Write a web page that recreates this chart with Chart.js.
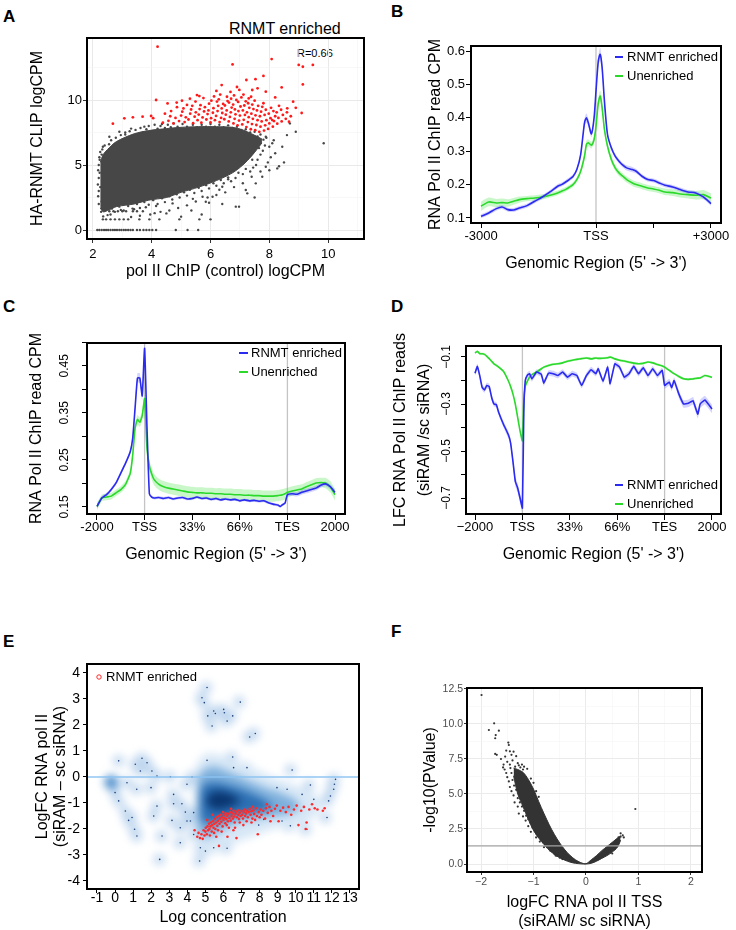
<!DOCTYPE html>
<html>
<head>
<meta charset="utf-8">
<title>RNMT enriched genes and RNA pol II ChIP</title>
<script src="https://cdn.jsdelivr.net/npm/chart.js@4.4.1/dist/chart.umd.min.js"></script>
<style>
  html, body { margin: 0; padding: 0; background: #fff; }
  body { position: relative; width: 736px; height: 930px; overflow: hidden; font-family: "Liberation Sans", Arial, sans-serif; color: #000; }
  canvas { position: absolute; }
  .tag { position: absolute; font-weight: bold; font-size: 17px; line-height: 17px; }
  .note { position: absolute; white-space: nowrap; }
</style>
</head>
<body>
<div class="tag" style="left:3px;top:8px">A</div>
<div class="tag" style="left:391px;top:3px">B</div>
<div class="tag" style="left:3px;top:298px">C</div>
<div class="tag" style="left:391px;top:298px">D</div>
<div class="tag" style="left:3px;top:633px">E</div>
<div class="tag" style="left:391px;top:623px">F</div>
<div class="note" style="left:229px;top:21px;font-size:16px;line-height:16px">RNMT enriched</div>
<div class="note" style="left:297px;top:48px;font-size:11px;line-height:11px">R=0.66</div>
<script>
// ---------- panel A : CLIP logCPM vs pol II ChIP logCPM ----------
// dense grey cloud, given as upper / lower edge along x
const aCloudX  = [2.25, 2.35, 2.5, 2.8, 3.4, 3.9, 4.5, 5.0, 5.6, 6.2, 6.75, 7.1, 7.4, 7.75];
const aCloudHi = [5.2, 5.8, 6.2, 6.8, 7.4, 7.65, 7.8, 7.9, 7.95, 7.95, 7.9, 7.7, 7.4, 7.0];
const aCloudLo = [1.7, 1.4, 1.5, 1.8, 2.0, 2.3, 2.5, 2.9, 3.3, 3.8, 4.4, 5.0, 5.7, 6.7];
const aGrey = [
  [2.15,0],[2.22,0],[2.3,0],[2.38,0],[2.45,0],[2.52,0],[2.6,0],[2.68,0],[2.75,0],[2.82,0],[2.9,0],[2.97,0],
  [3.05,0],[3.12,0],[3.2,0],[3.28,0],[3.36,0],[3.5,0],[3.6,0],[3.72,0],[3.82,0],[3.92,0],[4.02,0],[4.15,0],
  [4.82,0],[5.22,0],[5.58,0],
  [2.34,0.82],[2.45,0.82],[2.6,0.82],[2.75,0.82],[2.9,0.82],[3.05,0.82],[3.2,0.82],[3.58,0.82],[3.92,0.82],
  [4.26,0.82],[4.94,0.82],[5.62,0.82],[6.0,0.82],
  [2.56,1.44],[2.7,1.44],[2.85,1.44],[3.0,1.44],[3.13,1.44],[3.36,1.44],[3.5,1.44],[3.7,1.44],[4.1,1.3],[4.5,1.28],
  [5.0,1.03],[5.35,1.5],[5.84,2.18],[5.95,2.1],[6.86,1.8],[6.97,1.8],[6.07,2.56],[6.4,3.33],[7.2,3.08],[7.25,2.82],
  [7.54,3.59],[7.76,4.1],[7.88,4.87],[8.27,4.74],[8.33,4.9],[8.44,6.41],[8.1,6.67],[8.15,6.9],[8.9,7.56],[9.85,6.67],
  [7.88,7.18],[8.0,6.4],[7.65,6.3],[7.42,5.4],[6.75,4.6],[6.6,3.9],[6.3,3.1],[5.73,2.56],[5.4,2.4],[4.71,2.05],
  [4.15,1.85],[3.8,1.75],[3.4,1.6],[2.95,1.55],[2.6,1.2],[2.3,2.2],[2.25,3.3],[2.23,4.4],[2.23,5.4],[2.34,6.4],
  [2.56,7.18],[2.9,7.56],[3.3,7.8],[3.1,7.5],[3.75,7.95],[4.3,8.0],[7.3,6.6],[7.0,5.3],[6.5,4.2],[8.6,7.3],[8.7,8.2],
  // speckled rim of the cloud
  [2.3,5.8],[2.32,6.2],[2.4,6.5],[2.48,6.0],[2.55,6.6],[2.62,6.9],[2.7,6.4],[2.78,7.1],[2.85,6.7],[2.95,7.3],
  [3.02,6.95],[3.1,7.35],[3.18,7.05],[3.25,7.6],[3.35,7.2],[3.45,7.7],[3.55,7.35],[3.62,7.85],[3.7,7.5],[3.82,7.75],
  [3.9,8.0],[4.0,7.6],[4.1,8.1],[4.2,7.8],[4.35,8.15],[4.45,7.85],[4.55,8.1],[4.65,7.9],[4.75,8.2],[4.88,7.95],
  [5.05,8.15],[5.2,7.95],[5.4,8.1],[5.55,7.9],[5.7,8.1],[5.85,7.95],[6.0,8.15],[6.15,7.95],[6.3,8.1],[6.45,7.9],
  [6.6,8.05],[6.75,7.85],[6.9,7.95],[7.05,7.7],[7.2,7.75],[7.35,7.5],[7.5,7.55],[7.6,7.2],[7.7,7.35],[7.8,6.95],
  [7.9,7.1],[7.85,6.5],[7.78,6.1],[7.7,5.8],[7.6,5.4],[7.55,5.0],[7.45,4.8],[7.35,4.5],[7.2,4.7],[7.1,4.3],
  [6.95,4.4],[6.85,4.0],[6.7,3.75],[6.6,4.05],[6.45,3.6],[6.35,3.85],[6.2,3.4],[6.1,3.6],[5.95,3.2],[5.85,3.45],
  [5.7,3.0],[5.6,3.25],[5.45,2.85],[5.3,3.1],[5.2,2.65],[5.1,2.9],[4.95,2.5],[4.85,2.75],[4.7,2.35],[4.6,2.6],
  [4.45,2.15],[4.35,2.45],[4.2,2.0],[4.05,2.3],[3.9,1.95],[3.75,2.15],[3.6,1.7],[3.5,2.0],[3.35,1.65],[3.2,1.85],
  [3.05,1.5],[2.9,1.8],[2.75,1.4],[2.65,1.65],[2.5,1.15],[2.42,1.5],[2.35,1.05],[2.28,1.4],
  [2.2,2.0],[2.18,2.6],[2.2,3.0],[2.17,3.5],[2.2,4.0],[2.18,4.6],[2.2,5.0],[2.22,5.6],[2.25,6.0],
  [8.05,5.6],[8.2,5.9],[7.95,5.2],[7.7,4.5],[7.4,4.1],[7.1,3.6],[6.8,3.3],[6.5,2.9],[6.2,2.7],[5.9,2.5],
  [5.5,2.2],[5.2,1.9],[4.9,1.7],[4.6,1.5],[4.3,1.4],[3.95,1.2],[3.6,1.1],[3.3,1.0],[5.7,1.2],[6.4,2.0],
  [7.5,2.5],[8.5,5.2],[8.0,4.6]
];
const aRed = [
  [4.38,8.25],[4.45,8.95],[4.57,8.4],[4.63,8.75],[4.66,9.15],[4.74,8.2],[4.81,8.62],[4.86,9.45],[4.93,8.38],[5.0,8.8],
  [5.04,9.1],[5.08,9.35],[5.12,8.3],[5.16,8.67],[5.2,9.62],[5.25,8.5],[5.31,8.95],[5.34,9.27],[5.38,9.55],[5.41,8.22],
  [5.46,8.72],[5.5,9.05],[5.49,9.88],[5.56,8.45],[5.6,8.88],[5.63,9.3],[5.66,9.6],[5.69,8.25],[5.73,8.66],[5.78,9.12],
  [5.81,9.45],[5.76,10.15],[5.86,8.5],[5.9,8.92],[5.93,9.2],[5.95,9.72],[6.0,8.28],[6.02,8.6],[6.08,9.02],[6.1,9.37],
  [6.03,9.95],[6.12,10.28],[6.15,8.45],[6.19,8.78],[6.24,9.15],[6.26,9.55],[6.22,9.88],[6.28,10.05],[6.31,8.3],[6.36,8.62],
  [6.4,9.0],[6.38,9.35],[6.43,9.7],[6.33,10.42],[6.47,8.52],[6.52,8.87],[6.55,9.2],[6.49,9.58],[6.58,9.92],[6.56,10.25],
  [6.62,8.35],[6.66,8.7],[6.69,9.05],[6.72,9.42],[6.63,9.8],[6.7,10.1],[6.68,10.62],[6.78,8.2],[6.82,8.55],[6.85,8.9],
  [6.83,9.28],[6.77,9.65],[6.88,10.0],[6.8,10.35],[6.92,8.05],[6.97,8.42],[7.0,8.8],[6.95,9.15],[7.02,9.5],[6.94,9.85],
  [7.05,10.2],[6.98,10.78],[7.08,8.12],[7.13,8.48],[7.17,8.85],[7.1,9.2],[7.15,9.58],[7.2,9.9],[7.12,10.42],[7.22,7.92],
  [7.27,8.3],[7.3,8.68],[7.24,9.05],[7.32,9.4],[7.28,9.75],[7.3,10.12],[7.37,7.75],[7.41,8.15],[7.44,8.55],[7.39,8.95],
  [7.46,9.3],[7.42,9.65],[7.38,10.25],[7.52,7.68],[7.56,8.08],[7.6,8.45],[7.53,8.82],[7.58,9.2],[7.62,9.55],[7.5,9.95],
  [7.66,7.55],[7.7,7.95],[7.74,8.35],[7.68,8.75],[7.72,9.1],[7.76,9.48],[7.82,7.65],[7.86,8.05],[7.9,8.45],[7.84,8.85],
  [7.88,9.25],[7.8,9.75],[7.96,7.78],[8.0,8.2],[8.04,8.6],[7.98,8.95],[8.06,9.4],[8.12,7.95],[8.16,8.38],[8.2,8.75],
  [8.14,9.15],[8.27,8.18],[8.31,8.62],[8.25,9.05],[8.33,9.55],[8.42,8.35],[8.46,8.85],[8.4,9.25],[8.56,8.55],[8.6,9.05],
  [8.73,8.75],
  [4.2,14.1],[6.75,12.74],[8.08,13.15],[9.0,12.7],[9.14,12.56],[9.48,12.7],[9.14,11.2],[6.38,11.15],[7.22,11.54],
  [7.53,11.6],[7.8,11.85],[4.15,10.0],[4.54,9.74],[5.03,9.95],[5.54,10.38],[5.62,10.3],[2.68,8.18],[3.07,8.59],
  [3.36,8.67],[3.69,8.72],[3.98,8.77],[4.05,8.6],[8.81,9.87],[8.61,9.36],[8.42,10.97],[7.88,10.64],[7.42,10.77],
  [8.67,8.33],[8.1,8.46],[6.9,11.0],[6.2,10.7],[7.6,10.9],[8.2,10.2],[8.9,9.4],[9.1,9.0],[5.3,10.1],[4.85,9.8]
];
const aXTicks = [2, 3, 4, 5, 6, 7, 8, 9, 10, 11];
const aYTicks = [0, 2.5, 5, 7.5, 10, 12.5];

// ---------- panel B : profile around TSS ----------
const bPos = [-3000,-2800,-2600,-2450,-2300,-2150,-2000,-1800,-1600,-1400,-1200,-1000,-900,-800,-700,-600,-500,-400,
  -300,-250,-200,-120,-50,0,60,110,160,
  220,300,400,500,600,700,800,950,1050,1200,1350,1500,1650,1800,2000,2200,2400,2600,2800,3000];
const bBlue = [0.105,0.115,0.128,0.133,0.125,0.124,0.13,0.137,0.15,0.163,0.178,0.195,0.2,0.207,0.215,0.224,0.245,0.29,
  0.385,0.4,0.385,0.352,0.4,0.48,0.57,0.59,0.55,
  0.45,0.35,0.31,0.285,0.27,0.258,0.25,0.245,0.24,0.225,0.215,0.212,0.205,0.198,0.193,0.185,0.178,0.175,0.163,0.143];
const bGreen = [0.135,0.148,0.145,0.146,0.145,0.15,0.155,0.158,0.16,0.163,0.168,0.175,0.18,0.185,0.192,0.2,0.215,0.24,
  0.285,0.32,0.325,0.318,0.335,0.375,0.445,0.465,0.43,
  0.365,0.315,0.275,0.25,0.235,0.225,0.215,0.205,0.2,0.195,0.19,0.187,0.183,0.178,0.176,0.172,0.17,0.168,0.17,0.16];
const bBlueSe = [0.006,0.006,0.006,0.006,0.006,0.006,0.006,0.006,0.006,0.006,0.006,0.006,0.006,0.006,0.006,0.006,0.006,0.007,
  0.012,0.014,0.012,0.01,0.01,0.012,0.015,0.02,0.015,
  0.01,0.008,0.008,0.007,0.007,0.007,0.008,0.008,0.007,0.006,0.006,0.006,0.006,0.006,0.006,0.006,0.006,0.006,0.006,0.006];
const bGreenSe = [0.014,0.013,0.012,0.012,0.011,0.01,0.009,0.008,0.008,0.008,0.007,0.007,0.007,0.007,0.007,0.007,0.007,0.008,
  0.01,0.012,0.01,0.01,0.01,0.012,0.015,0.017,0.015,
  0.012,0.01,0.01,0.009,0.009,0.009,0.009,0.009,0.009,0.009,0.009,0.009,0.009,0.01,0.01,0.011,0.012,0.013,0.014,0.014];
const bXTicks = [-3000, -1500, 0, 1500, 3000];
const bYTicks = [0.1, 0.2, 0.3, 0.4, 0.5, 0.6];

// ---------- panel C : metagene read CPM (0 = -2000, 1 = TSS, 4 = TES, 5 = +2000) ----------
const cPos = [0,0.1,0.2,0.3,0.4,0.5,0.6,0.7,0.75,0.8,0.85,0.9,0.95,1.0,1.05,1.1,1.15,1.2,
  1.3,1.4,1.5,1.6,1.7,1.8,1.9,2.0,2.1,2.2,2.3,2.4,2.5,2.6,2.7,2.8,2.9,3.0,3.1,3.2,3.3,3.4,3.5,3.6,3.7,3.8,3.85,3.9,3.95,
  4.0,4.1,4.2,4.3,4.4,4.5,4.6,4.7,4.8,4.9,5.0];
const cBlue = [0.151,0.169,0.176,0.187,0.201,0.222,0.243,0.268,0.296,0.36,0.424,0.424,0.386,0.487,0.32,0.178,0.171,0.169,
  0.17,0.168,0.17,0.167,0.169,0.17,0.167,0.168,0.171,0.168,0.169,0.166,0.168,0.165,0.167,0.165,0.166,0.163,0.165,0.163,
  0.164,0.162,0.163,0.159,0.156,0.154,0.151,0.155,0.158,
  0.176,0.178,0.177,0.181,0.184,0.187,0.19,0.196,0.199,0.193,0.181];
const cGreen = [0.151,0.169,0.171,0.173,0.18,0.187,0.198,0.222,0.26,0.318,0.336,0.33,0.344,0.38,0.275,0.237,0.22,0.208,
  0.198,0.193,0.19,0.188,0.186,0.184,0.182,0.181,0.18,0.18,0.179,0.179,0.178,0.178,0.177,0.177,0.176,0.176,0.175,0.175,
  0.174,0.174,0.173,0.173,0.173,0.174,0.175,0.176,0.178,
  0.181,0.184,0.186,0.188,0.193,0.197,0.201,0.202,0.201,0.193,0.176];
const cBlueSe = [0.005,0.004,0.004,0.004,0.004,0.004,0.004,0.005,0.006,0.008,0.01,0.01,0.01,0.01,0.008,0.004,0.003,0.003,
  0.003,0.003,0.003,0.003,0.003,0.003,0.003,0.003,0.003,0.003,0.003,0.003,0.003,0.003,0.003,0.003,0.003,0.003,0.003,0.003,
  0.003,0.003,0.003,0.003,0.003,0.003,0.003,0.003,0.003,
  0.005,0.005,0.005,0.005,0.005,0.005,0.005,0.005,0.005,0.005,0.006];
const cGreenSe = [0.008,0.007,0.007,0.007,0.007,0.007,0.007,0.007,0.01,0.01,0.01,0.01,0.01,0.01,0.01,0.012,0.012,0.012,
  0.012,0.012,0.012,0.012,0.012,0.012,0.012,0.012,0.012,0.012,0.012,0.012,0.012,0.012,0.012,0.012,0.012,0.012,0.012,0.012,
  0.012,0.012,0.012,0.012,0.012,0.012,0.012,0.012,0.012,
  0.01,0.01,0.01,0.01,0.01,0.01,0.01,0.01,0.011,0.012,0.012];
const cYTicks = [0.15, 0.2, 0.25, 0.3, 0.35, 0.4, 0.45, 0.5];
const cYLabels = [0.15, 0.25, 0.35, 0.45];
const regionTicks = [0, 1, 2, 3, 4, 5];
const regionLabels = ['-2000', 'TSS', '33%', '66%', 'TES', '2000'];

// ---------- panel D : LFC of read counts (siRAM / sc siRNA) ----------
const dPos = [0,0.05,0.1,0.15,0.2,0.25,0.3,0.35,0.4,0.45,0.5,0.6,0.7,0.75,0.8,0.85,0.9,0.95,1.0,1.03,1.06,1.1,1.15,1.2,
  1.3,1.4,1.45,1.55,1.65,1.75,1.85,1.95,2.05,2.15,2.25,2.35,2.45,2.55,2.6,2.7,2.8,2.85,2.95,3.05,3.15,3.25,3.35,3.45,
  3.55,3.65,3.75,3.85,3.95,4.0,4.1,4.15,4.2,4.3,4.4,4.5,4.6,4.7,4.75,4.85,5.0];
const dBlue = [-0.169,-0.14,-0.179,-0.229,-0.24,-0.221,-0.226,-0.271,-0.3,-0.303,-0.336,-0.386,-0.429,-0.464,-0.543,
  -0.629,-0.657,-0.7,-0.743,-0.329,-0.2,-0.179,-0.171,-0.193,-0.164,-0.174,-0.211,-0.169,-0.171,-0.179,-0.164,-0.186,
  -0.171,-0.179,-0.221,-0.179,-0.154,-0.171,-0.15,-0.203,-0.143,-0.214,-0.129,-0.143,-0.186,-0.171,-0.14,-0.171,
  -0.146,-0.179,-0.15,-0.179,-0.157,-0.221,-0.207,-0.231,-0.2,-0.257,-0.3,-0.297,-0.286,-0.343,-0.3,-0.283,-0.321];
const dGreen = [-0.083,-0.076,-0.086,-0.086,-0.089,-0.097,-0.107,-0.118,-0.129,-0.136,-0.143,-0.161,-0.2,-0.225,-0.257,
  -0.3,-0.357,-0.414,-0.457,-0.286,-0.225,-0.205,-0.186,-0.175,-0.164,-0.15,-0.143,-0.136,-0.131,-0.129,-0.125,-0.118,
  -0.114,-0.11,-0.107,-0.104,-0.108,-0.104,-0.106,-0.105,-0.103,-0.1,-0.108,-0.114,-0.117,-0.122,-0.126,-0.129,
  -0.127,-0.121,-0.125,-0.132,-0.138,-0.143,-0.157,-0.164,-0.171,-0.183,-0.193,-0.195,-0.193,-0.19,-0.189,-0.179,-0.186];
const dBlueSe = [0.012,0.012,0.012,0.012,0.012,0.012,0.012,0.012,0.012,0.012,0.012,0.014,0.015,0.016,0.018,
  0.02,0.02,0.02,0.02,0.015,0.012,0.012,0.012,0.012,0.012,0.012,0.012,0.012,0.012,0.012,0.012,0.012,
  0.012,0.012,0.012,0.012,0.012,0.012,0.012,0.012,0.012,0.012,0.012,0.012,0.012,0.012,0.012,0.012,
  0.012,0.012,0.012,0.012,0.012,0.014,0.014,0.014,0.014,0.016,0.016,0.016,0.016,0.018,0.018,0.018,0.018];
const dGreenSe = [0.005,0.005,0.005,0.005,0.005,0.005,0.005,0.005,0.005,0.005,0.005,0.005,0.005,0.005,0.005,
  0.006,0.006,0.006,0.006,0.005,0.005,0.005,0.005,0.005,0.005,0.005,0.005,0.005,0.005,0.005,0.005,0.005,
  0.005,0.005,0.005,0.005,0.005,0.005,0.005,0.005,0.005,0.005,0.005,0.005,0.005,0.005,0.005,0.005,
  0.005,0.005,0.005,0.005,0.005,0.005,0.005,0.005,0.005,0.005,0.005,0.005,0.005,0.005,0.005,0.005,0.005];
const dYTicks = [-0.7, -0.6, -0.5, -0.4, -0.3, -0.2, -0.1];
const dYLabels = [-0.7, -0.5, -0.3, -0.1];

// ---------- panel E : MA plot, smoothed density ----------
const eL1X = [4.45, 4.5, 4.8, 5.2, 5.8, 6.5, 7.2, 8.0, 8.8, 9.6, 10.4, 11.0, 11.5];
const eL1Hi = [-0.6, 0.3, 0.7, 0.9, 0.85, 0.7, 0.5, 0.25, 0.0, -0.2, -0.4, -0.6, -0.9];
const eL1Lo = [-1.8, -2.5, -2.8, -2.9, -2.8, -2.6, -2.4, -2.2, -2.0, -1.9, -1.8, -1.6, -1.2];
const eL2X = [4.55, 4.62, 4.8, 5.0, 5.5, 6.0, 6.5, 7.0, 7.5, 8.0, 8.5, 9.0, 9.5, 10.0, 10.3];
const eL2Hi = [-0.8, 0.0, 0.15, 0.3, 0.4, 0.3, 0.15, 0.0, -0.15, -0.3, -0.45, -0.55, -0.7, -0.85, -1.1];
const eL2Lo = [-1.5, -2.0, -2.3, -2.35, -2.25, -2.05, -1.85, -1.7, -1.65, -1.6, -1.55, -1.5, -1.45, -1.35, -1.2];
const eL3X = [4.75, 4.85, 5.1, 5.5, 6.0, 6.5, 7.0, 7.5, 8.0, 8.5, 8.8];
const eL3Hi = [-0.9, -0.4, -0.25, -0.2, -0.25, -0.35, -0.45, -0.6, -0.75, -0.95, -1.1];
const eL3Lo = [-1.4, -1.7, -1.8, -1.75, -1.65, -1.55, -1.45, -1.4, -1.35, -1.25, -1.15];
const eL4X = [5.1, 5.4, 5.8, 6.2, 6.6, 7.0];
const eL4Hi = [-0.85, -0.6, -0.55, -0.6, -0.7, -0.9];
const eL4Lo = [-1.0, -1.2, -1.25, -1.2, -1.1, -0.95];
const eBlob = [[-0.2, -0.2]];
const eOut = [
  [5.09,3.44],[4.81,3.05],[4.94,2.86],[5.13,2.35],[5.46,2.54],[5.55,2.44],[5.37,1.96],[6.01,2.6],[6.05,2.47],[6.2,2.15],
  [6.51,2.35],[6.93,2.88],[7.45,1.54],[7.76,1.67],[5.09,0.64],[6.51,0.77],[6.56,0.36],[7.3,0.36],[9.8,0.27],[0.2,0.62],
  [1.12,0.49],[1.49,0.72],[1.4,0.23],[1.77,0.55],[2.04,0.23],[2.32,0.04],[3.06,0.01],[4.26,0.0],[0.0,-0.6],[0.2,-0.92],
  [0.57,-1.31],[0.75,-1.67],[0.66,-0.22],[1.2,-0.47],[0.94,-1.56],[1.08,-2.01],[1.21,-2.27],[1.99,-0.41],[2.32,-1.12],
  [2.14,-1.5],[2.6,-2.27],[2.47,-3.17],[3.24,-0.67],[3.24,-1.03],[3.15,-1.67],[3.61,-1.95],[3.98,-0.28],[3.7,-1.03],
  [3.89,-1.35],[3.98,-1.69],[3.61,-2.53],[4.35,-1.37],[4.17,-1.69],[4.35,-2.21],[4.68,-3.23],[4.72,-2.72],[5.0,-2.85],
  [5.46,-2.72],[6.2,-2.74],[8.96,-0.41],[9.52,-0.47],[10.35,-0.67],[10.81,-0.31],[11.0,-0.86],[11.82,-0.92],
  [11.92,-0.73],[12.1,-0.47],[12.2,-0.09],[12.14,-0.28],[10.62,-2.01],[9.7,-1.88],[8.23,-1.63],[7.95,-1.85],
  [11.73,-1.56],[9.24,-1.69]
];
const eRed = [
  [4.62,-2.15],[4.7,-2.35],[4.78,-2.2],[4.85,-2.38],[4.9,-2.05],[4.95,-2.25],[5.0,-2.1],[5.02,-1.95],[5.08,-2.2],
  [5.12,-1.9],[5.15,-2.05],[5.2,-1.8],[5.22,-2.0],[5.28,-1.9],[5.3,-1.75],[5.35,-2.1],[5.38,-1.85],[5.42,-1.7],
  [5.45,-1.95],[5.5,-1.8],[5.52,-1.62],[5.55,-2.0],[5.6,-1.75],[5.62,-1.55],[5.66,-1.88],[5.7,-1.68],[5.72,-1.5],
  [5.75,-2.65],[5.78,-1.8],[5.82,-1.6],[5.85,-1.45],[5.88,-1.72],[5.92,-1.55],[5.95,-1.9],[6.0,-1.65],[6.02,-1.45],
  [6.06,-1.58],[6.1,-1.78],[6.12,-1.4],[6.16,-1.62],[6.2,-1.5],[6.22,-2.3],[6.25,-1.7],[6.3,-1.42],[6.33,-1.58],
  [6.38,-1.35],[6.4,-1.68],[6.45,-1.5],[6.5,-1.4],[6.52,-1.6],[6.56,-1.3],[6.6,-1.52],[6.62,-1.75],[6.66,-1.42],
  [6.7,-1.35],[6.72,-2.35],[6.75,-1.55],[6.8,-1.28],[6.82,-1.45],[6.86,-1.62],[6.9,-1.38],[6.95,-1.5],[7.0,-1.3],
  [7.04,-1.45],[7.08,-1.6],[7.12,-1.35],[7.18,-1.25],[7.2,-1.5],[7.25,-1.4],[7.3,-1.3],[7.35,-1.55],[7.4,-1.35],
  [7.45,-1.22],[7.5,-1.45],[7.55,-1.32],[7.6,-1.6],[7.65,-1.28],[7.7,-1.42],[7.8,-1.2],[7.85,-1.5],[7.9,-2.2],
  [7.95,-1.35],[8.05,-1.25],[8.1,-1.45],[8.2,-1.3],[8.3,-1.6],[8.35,-1.2],[8.45,-1.38],[8.55,-1.15],[8.65,-1.3],
  [8.75,-1.5],[8.85,-1.22],[8.95,-1.1],[9.05,-1.7],[9.15,-1.3],[9.3,-1.18],[9.45,-1.35],[9.6,-1.15],[9.75,-1.45],
  [9.9,-1.25],[10.05,-1.1],[10.15,-1.85],[10.3,-1.3],[10.45,-1.15],[10.6,-1.75],[10.55,-2.0],[10.75,-1.25],
  [10.9,-1.05],[11.05,-1.2],[11.2,-1.25],[11.5,-1.3],[11.6,-1.2],[4.4,-2.05],[4.55,-2.3],[5.1,-1.65],[5.4,-1.45],
  [5.6,-2.3],[5.9,-2.1],[6.3,-1.95],[6.55,-2.05],[7.1,-1.85],[7.55,-1.75],
  [5.25,-2.25],[5.48,-2.15],[5.7,-2.05],[5.98,-1.35],[6.18,-1.85],[6.42,-1.22],[6.64,-1.95],[6.9,-1.75],[7.28,-1.7],
  [7.62,-1.15],[7.75,-1.65],[8.0,-1.55],[8.4,-1.05],[8.6,-1.7]
];
const eXTicks = [-1, 0, 1, 2, 3, 4, 5, 6, 7, 8, 9, 10, 11, 12, 13];
const eYTicks = [-4, -3, -2, -1, 0, 1, 2, 3, 4];

// ---------- panel F : volcano plot at TSS ----------
const fCloudX  = [-1.38, -1.3, -1.2, -1.1, -1.0, -0.9, -0.8, -0.7, -0.6, -0.5, -0.4, -0.3, -0.2, -0.1, 0, 0.1, 0.2, 0.3, 0.4, 0.5, 0.6, 0.66];
const fCloudHi = [6.85, 6.75, 6.55, 6.05, 5.35, 4.45, 3.6, 2.8, 2.1, 1.5, 1.0, 0.6, 0.3, 0.1, 0.02, 0.3, 0.6, 0.95, 1.25, 1.55, 1.85, 2.0];
const fCloudLo = [6.3, 5.0, 4.1, 3.2, 2.4, 1.85, 1.4, 1.0, 0.68, 0.45, 0.27, 0.13, 0.05, 0.01, 0, 0.05, 0.2, 0.4, 0.6, 0.85, 1.2, 1.7];
const fPts = [
  [-1.99,12.07],[-1.75,10.05],[-1.85,9.57],[-1.66,9.52],[-1.72,9.21],[-1.73,8.98],[-1.73,7.86],[-1.7,7.8],[-1.48,8.67],
  [-1.47,8.5],[-1.38,8.02],[-1.45,8.05],[-1.52,8.1],[-1.54,7.67],[-1.42,7.8],[-1.33,7.7],[-1.4,7.4],[-1.28,7.05],
  [-1.22,7.1],[-1.18,6.95],[-1.12,6.8],[-1.58,6.9],[-1.55,6.75],[-1.52,6.5],[-1.5,6.2],[-1.47,5.9],[-1.45,5.5],
  [-1.42,5.2],[-1.38,4.9],[-1.36,4.4],[-1.3,4.1],[-1.28,3.6],[-1.2,3.4],[-1.15,3.1],[-1.1,2.7],[-0.83,2.9],[-1.05,2.3],
  [-0.95,1.9],[-0.88,1.6],[-0.8,1.2],[-0.68,0.95],[-0.58,0.6],[-1.05,6.1],[-1.0,5.8],[-0.95,5.2],[-0.9,4.8],
  [0.94,3.93],[0.66,2.19],[0.72,1.9],[0.7,2.05],[0.62,1.5],[0.55,1.1],[0.5,0.75],
  [-1.42,6.5],[-1.4,6.0],[-1.37,5.6],[-1.33,5.3],[-1.3,4.7],[-1.26,4.4],[-1.22,4.1],[-1.18,3.8],[-1.14,3.45],[-1.1,3.2],
  [-1.06,2.95],[-1.02,2.6],[-0.98,2.4],[-0.94,2.15],[-0.9,1.95],[-0.86,1.75],[-0.82,1.55],[-0.78,1.4],[-0.74,1.2],
  [-0.7,1.05],[-0.65,0.9],[-0.6,0.72],[-0.55,0.58],[-0.5,0.45],[-0.45,0.35],[-1.25,6.9],[-1.3,7.2],[-1.2,6.75],
  [-1.35,6.95],[-1.45,7.1],[-1.5,7.3],[-1.62,7.5],[-1.57,7.1],[-1.44,6.85],[0.62,1.9],[0.66,1.95],[0.58,1.6],[0.45,1.0]
];
const fXTicks = [-2, -1.5, -1, -0.5, 0, 0.5, 1, 1.5, 2];
const fYTicks = [0, 1.25, 2.5, 3.75, 5, 6.25, 7.5, 8.75, 10, 11.25, 12.5];

// ---------------------------------------------------------------
Chart.defaults.font.family = '"Liberation Sans", Arial, sans-serif';
Chart.defaults.color = '#000';
Chart.defaults.animation = false;
Chart.defaults.events = [];
Chart.defaults.plugins.legend.display = false;
Chart.defaults.plugins.tooltip.enabled = false;

const FONT = '"Liberation Sans", Arial, sans-serif';
const BLUE = '#2a2af0', GREEN = '#2bd92b';
const BLUE_BAND = 'rgba(80,80,255,0.25)', GREEN_BAND = 'rgba(60,225,60,0.27)';

// extra drawing: reference lines, frame, legends, rotated tick labels
const deco = {
  id: 'deco',
  beforeDatasetsDraw(chart, args, o) {
    const {ctx, chartArea: a, scales} = chart;
    if (!o.vlines) return;
    ctx.save();
    ctx.strokeStyle = '#c4c4c4';
    ctx.lineWidth = 1.3;
    o.vlines.forEach(v => {
      const px = scales.x.getPixelForValue(v);
      ctx.beginPath(); ctx.moveTo(px, a.top); ctx.lineTo(px, a.bottom); ctx.stroke();
    });
    ctx.restore();
  },
  afterDatasetsDraw(chart, args, o) {
    const {ctx, chartArea: a, scales} = chart;
    const ox = chart.canvas.offsetLeft, oy = chart.canvas.offsetTop;
    ctx.save();
    (o.hlines || []).forEach(h => {
      const py = scales.y.getPixelForValue(h.value);
      ctx.strokeStyle = h.color; ctx.lineWidth = h.width;
      ctx.beginPath(); ctx.moveTo(a.left, py); ctx.lineTo(a.right, py); ctx.stroke();
    });
    if (o.box) {
      ctx.strokeStyle = '#000'; ctx.lineWidth = o.box;
      ctx.strokeRect(a.left, a.top, a.right - a.left, a.bottom - a.top);
    }
    if (o.legend) {
      const L = o.legend;
      ctx.font = '13px ' + FONT; ctx.textBaseline = 'middle'; ctx.textAlign = 'left';
      L.items.forEach((it, i) => {
        const ly = L.y + i * L.dy - oy;
        ctx.strokeStyle = it.color;
        if (it.circle) {
          ctx.lineWidth = 1;
          ctx.beginPath(); ctx.arc(L.x0 - ox + 3, ly, 2.2, 0, Math.PI * 2); ctx.stroke();
        } else {
          ctx.lineWidth = 2;
          ctx.beginPath(); ctx.moveTo(L.x0 - ox, ly); ctx.lineTo(L.x1 - ox, ly); ctx.stroke();
        }
        ctx.fillStyle = '#000';
        ctx.fillText(it.text, L.tx - ox, ly);
      });
    }
    if (o.sideTicks) {
      const s = o.sideTicks;
      ctx.font = '12px ' + FONT; ctx.fillStyle = '#000';
      ctx.textAlign = 'center'; ctx.textBaseline = 'middle';
      s.values.forEach((v, i) => {
        ctx.save();
        ctx.translate(s.x - ox, scales.y.getPixelForValue(v));
        ctx.rotate(-Math.PI / 2);
        ctx.fillText(s.labels[i], 0, 0);
        ctx.restore();
      });
    }
    ctx.restore();
  }
};
Chart.register(deco);

function mk(x, y, w, h) {
  const c = document.createElement('canvas');
  c.width = w; c.height = h;
  c.style.left = x + 'px'; c.style.top = y + 'px';
  c.style.width = w + 'px'; c.style.height = h + 'px';
  document.body.appendChild(c);
  return c;
}

const xy = (xs, ys) => xs.map((x, i) => ({x, y: ys[i]}));
const pts = arr => arr.map(p => ({x: p[0], y: p[1]}));
const shift = (ys, se, k) => ys.map((v, i) => v + k * se[i]);

// linear axis with fixed ticks and a fixed thickness
function axis(o) {
  const isMajor = o.major ? v => o.major.some(m => Math.abs(m - v) < 1e-9) : () => true;
  return {
    type: 'linear', min: o.min, max: o.max,
    afterBuildTicks: s => { s.ticks = o.ticks.map(v => ({value: v})); },
    afterFit: s => {
      if (s.isHorizontal()) s.height = o.size; else s.width = o.size;
      s.paddingLeft = s.paddingRight = s.paddingTop = s.paddingBottom = 0;
    },
    border: {display: false},
    grid: {
      drawOnChartArea: !!o.grid, drawTicks: true, tickLength: o.tick,
      color: c => (o.grid && c.tick) ? (isMajor(c.tick.value) ? o.grid[0] : o.grid[1]) : '#000',
      lineWidth: c => (o.grid && c.tick && !isMajor(c.tick.value)) ? 0.6 : 1,
      tickColor: c => (c.tick && !isMajor(c.tick.value)) ? 'rgba(0,0,0,0)' : (o.tickColor || '#000'),
      tickWidth: 1
    },
    ticks: {
      display: o.labels !== false, autoSkip: false, maxRotation: 0, minRotation: 0,
      padding: o.pad, color: o.color || '#000', font: {size: o.font, lineHeight: 1},
      callback: v => isMajor(v) ? (o.fmt ? o.fmt(v) : String(v)) : ''
    },
    title: {
      display: !!o.title, text: o.title, color: '#000',
      font: {size: 16, lineHeight: o.lh || 1.2}, padding: o.tpad || 0
    }
  };
}

function profile(xs, blue, green, blueSe, greenSe, tension) {
  const line = (ys, col) => ({type: 'line', data: xy(xs, ys), borderColor: col, borderWidth: 1.6,
    pointRadius: 0, fill: false, tension});
  const edge = (ys, fill, col) => ({type: 'line', data: xy(xs, ys), borderWidth: 0, pointRadius: 0,
    backgroundColor: col, fill, tension});
  return [
    line(blue, BLUE), line(green, GREEN),
    edge(shift(blue, blueSe, 1), '+1', BLUE_BAND), edge(shift(blue, blueSe, -1), false),
    edge(shift(green, greenSe, 1), '+1', GREEN_BAND), edge(shift(green, greenSe, -1), false)
  ];
}

// ----- A -----
new Chart(mk(0, 30, 368, 255), {
  type: 'scatter',
  data: {datasets: [
    {data: pts(aRed), pointBackgroundColor: '#ff1a1a', pointRadius: 1.4, pointBorderWidth: 0},
    {data: pts(aGrey), pointBackgroundColor: '#474747', pointRadius: 1.2, pointBorderWidth: 0},
    {type: 'line', data: xy(aCloudX, aCloudHi), borderColor: '#474747', borderWidth: 1, backgroundColor: '#474747',
      fill: '+1', pointRadius: 0, tension: 0.3},
    {type: 'line', data: xy(aCloudX, aCloudLo), borderColor: '#474747', borderWidth: 1, fill: false, pointRadius: 0, tension: 0.3}
  ]},
  options: {
    responsive: false, devicePixelRatio: 1,
    layout: {padding: {top: 8, right: 3, left: 0, bottom: 0}},
    scales: {
      x: axis({min: 1.8, max: 11.22, ticks: aXTicks, major: [2, 4, 6, 8, 10], size: 46, tick: 4, pad: 4.5, font: 13,
        grid: ['#e9e9e9', '#f4f4f4'], tickColor: '#333', title: 'pol II ChIP (control) logCPM', tpad: {top: 0, bottom: 3.4}}),
      y: axis({min: -0.69, max: 14.77, ticks: aYTicks, major: [0, 5, 10], size: 87, tick: 4, pad: 1, font: 13,
        grid: ['#e9e9e9', '#f4f4f4'], tickColor: '#333', title: 'HA-RNMT CLIP logCPM', tpad: {top: 28.4, bottom: 0}})
    },
    plugins: {deco: {box: 2}}
  }
});

// ----- B -----
const bLabels = {'-3000': '-3000', '0': 'TSS', '3000': '+3000'};
new Chart(mk(420, 30, 316, 246), {
  type: 'scatter',
  data: {datasets: profile(bPos, bBlue, bGreen, bBlueSe, bGreenSe, 0.25)},
  options: {
    responsive: false, devicePixelRatio: 1,
    layout: {padding: {top: 16, right: 15, left: 0, bottom: 0}},
    scales: {
      x: axis({min: -3261, max: 3261, ticks: bXTicks, fmt: v => bLabels[String(v)] || '', size: 53, tick: 5, pad: 1.5, font: 13,
        title: "Genomic Region (5' -> 3')", tpad: {top: 0, bottom: 2.4}}),
      y: axis({min: 0.085, max: 0.615, ticks: bYTicks, fmt: v => v.toFixed(1), size: 51, tick: 5, pad: 1, font: 13,
        title: 'RNA Pol II ChIP read CPM', tpad: {top: 6.4, bottom: 0}})
    },
    plugins: {deco: {box: 2, vlines: [0],
      legend: {x0: 615, x1: 623, tx: 627, y: 57, dy: 19,
        items: [{text: 'RNMT enriched', color: BLUE}, {text: 'Unenriched', color: GREEN}]}}}
  }
});

// ----- C -----
new Chart(mk(20, 318, 340, 249), {
  type: 'scatter',
  data: {datasets: profile(cPos, cBlue, cGreen, cBlueSe, cGreenSe, 0.15)},
  options: {
    responsive: false, devicePixelRatio: 1,
    layout: {padding: {top: 25, right: 15, left: 0, bottom: 0}},
    scales: {
      x: axis({min: -0.21, max: 5.21, ticks: regionTicks, fmt: v => regionLabels[v], size: 53, tick: 6, pad: 0.5, font: 13,
        title: "Genomic Region (5' -> 3')", tpad: {top: 0, bottom: 2.4}}),
      y: axis({min: 0.135, max: 0.4985, ticks: cYTicks, labels: false, size: 67, tick: 5, pad: 1, font: 12,
        title: 'RNA Pol II ChIP read CPM', tpad: {top: 7.4, bottom: 0}})
    },
    plugins: {deco: {box: 2, vlines: [1, 4],
      sideTicks: {x: 65, values: cYLabels, labels: cYLabels.map(v => v.toFixed(2))},
      legend: {x0: 239, x1: 248, tx: 251, y: 353, dy: 19,
        items: [{text: 'RNMT enriched', color: BLUE}, {text: 'Unenriched', color: GREEN}]}}}
  }
});

// ----- D -----
const dRegionLabels = ['\u22122000', 'TSS', '33%', '66%', 'TES', '2000'];
new Chart(mk(385, 318, 351, 249), {
  type: 'scatter',
  data: {datasets: profile(dPos, dBlue, dGreen, dBlueSe, dGreenSe, 0.1)},
  options: {
    responsive: false, devicePixelRatio: 1,
    layout: {padding: {top: 28, right: 15, left: 0, bottom: 0}},
    scales: {
      x: axis({min: -0.19, max: 5.19, ticks: regionTicks, fmt: v => dRegionLabels[v], size: 53, tick: 6, pad: 0.5, font: 13,
        title: "Genomic Region (5' -> 3')", tpad: {top: 0, bottom: 2.4}}),
      y: axis({min: -0.768, max: -0.0532, ticks: dYTicks, labels: false, size: 81, tick: 5, pad: 1, font: 12, lh: 1.5,
        title: ['LFC RNA Pol II ChIP reads', '(siRAM /sc siRNA)'], tpad: {top: 4, bottom: 0}})
    },
    plugins: {deco: {box: 2, vlines: [1, 4],
      sideTicks: {x: 447, values: dYLabels, labels: dYLabels.map(v => '\u2212' + Math.abs(v).toFixed(1))},
      legend: {x0: 615, x1: 623, tx: 627, y: 485, dy: 19,
        items: [{text: 'RNMT enriched', color: BLUE}, {text: 'Unenriched', color: GREEN}]}}}
  }
});

// ----- E : density layer (blurred) -----
const eDens = mk(20, 656, 344, 278);
eDens.style.filter = 'blur(4px)';
const level = (xs, hi, lo, col) => [
  {type: 'line', data: xy(xs, hi), borderWidth: 0, pointRadius: 0, backgroundColor: col, fill: '+1', tension: 0.4},
  {type: 'line', data: xy(xs, lo), borderWidth: 0, pointRadius: 0, fill: false, tension: 0.4}
];
new Chart(eDens, {
  type: 'scatter',
  data: {datasets: [
    ...level(eL4X, eL4Hi, eL4Lo, '#0a3671'),
    ...level(eL3X, eL3Hi, eL3Lo, '#2c6fb3'),
    ...level(eL2X, eL2Hi, eL2Lo, '#7eb0dc'),
    ...level(eL1X, eL1Hi, eL1Lo, '#d7e7f6'),
    {data: pts(eBlob), pointBackgroundColor: '#4f8fcc', pointRadius: 7, pointBorderWidth: 0},
    {data: pts(eOut), pointBackgroundColor: '#bdd5ee', pointRadius: 5.5, pointBorderWidth: 0}
  ]},
  options: {
    responsive: false, devicePixelRatio: 1,
    layout: {padding: {top: 8, right: 5, left: 67, bottom: 45}},
    scales: {
      x: {type: 'linear', display: false, min: -1.553, max: 13.5},
      y: {type: 'linear', display: false, min: -4.308, max: 4.346}
    }
  }
});

// ----- E : points, axes -----
new Chart(mk(20, 656, 344, 278), {
  type: 'scatter',
  data: {datasets: [
    {data: pts(eRed), pointBackgroundColor: '#ff2a2a', pointRadius: 1.3, pointBorderWidth: 0},
    {data: pts(eOut), pointBackgroundColor: '#1b3f78', pointRadius: 0.8, pointBorderWidth: 0}
  ]},
  options: {
    responsive: false, devicePixelRatio: 1,
    layout: {padding: {top: 8, right: 5, left: 0, bottom: 0}},
    scales: {
      x: axis({min: -1.553, max: 13.5, ticks: eXTicks, size: 45, tick: 4, pad: -2, font: 14,
        title: 'Log concentration', tpad: {top: 0, bottom: 6.4}}),
      y: axis({min: -4.308, max: 4.346, ticks: eYTicks, size: 67, tick: 4, pad: 3, font: 14, lh: 1.125,
        title: ['LogFC RNA pol II', '(siRAM \u2013 sc siRNA)'], tpad: {top: 14, bottom: 0}})
    },
    plugins: {deco: {box: 2, hlines: [{value: 0, color: 'rgba(140,195,240,0.95)', width: 1.3}],
      legend: {x0: 96, x1: 102, tx: 106, y: 677, dy: 19, items: [{text: 'RNMT enriched', color: '#ff2a2a', circle: true}]}}}
  }
});

// ----- F -----
new Chart(mk(400, 680, 307, 254), {
  type: 'scatter',
  data: {datasets: [
    {data: pts(fPts), pointBackgroundColor: '#333', pointRadius: 1.1, pointBorderWidth: 0},
    {type: 'line', data: xy(fCloudX, fCloudHi), borderColor: '#333', borderWidth: 1, backgroundColor: '#333',
      fill: '+1', pointRadius: 0, tension: 0.3},
    {type: 'line', data: xy(fCloudX, fCloudLo), borderColor: '#333', borderWidth: 1, fill: false, pointRadius: 0, tension: 0.3}
  ]},
  options: {
    responsive: false, devicePixelRatio: 1,
    layout: {padding: {top: 8, right: 5, left: 0, bottom: 0}},
    scales: {
      x: axis({min: -2.267, max: 2.21, ticks: fXTicks, major: [-2, -1, 0, 1, 2], size: 62, tick: 3, pad: 1.75, font: 10.5,
        color: '#4d4d4d', grid: ['#ebebeb', '#f5f5f5'], tickColor: '#333',
        fmt: v => v < 0 ? '\u2212' + Math.abs(v) : String(v),
        lh: 1.1875, title: ['logFC RNA pol II TSS', '(siRAM/ sc siRNA)'], tpad: {top: 0, bottom: 2.5}}),
      y: axis({min: -0.571, max: 12.57, ticks: fYTicks, major: [0, 2.5, 5, 7.5, 10, 12.5], size: 67, tick: 3, pad: 1, font: 10.5,
        color: '#4d4d4d', grid: ['#ebebeb', '#f5f5f5'], tickColor: '#333', fmt: v => v.toFixed(1),
        title: '-log10(PValue)', tpad: {top: 21.4, bottom: 0}})
    },
    plugins: {deco: {box: 2, hlines: [{value: 1.3, color: '#a3a3a3', width: 1.3}]}}
  }
});
</script>
</body>
</html>
